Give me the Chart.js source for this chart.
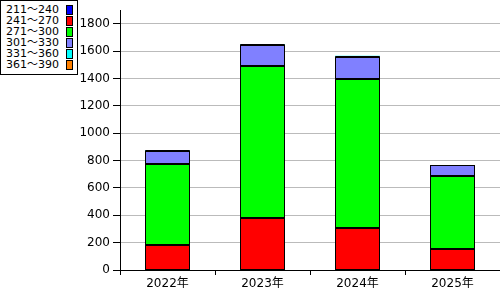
<!DOCTYPE html>
<html><head><meta charset="utf-8">
<script src="https://cdn.jsdelivr.net/npm/chart.js@4"></script>
<style>
html,body{margin:0;padding:0;background:#fff;}
#wrap{position:relative;width:500px;height:300px;}
#legend{position:absolute;left:0;top:0;width:76px;height:73px;border:1px solid #000;background:#fff;font-family:"DejaVu Sans","Noto Sans CJK JP",sans-serif;font-size:11px;color:#000;}
#legend .row{position:absolute;left:5px;height:11px;line-height:11px;white-space:nowrap;}
#legend .sw{position:absolute;left:65px;width:5px;height:8px;border:1px solid #000;}
</style></head>
<body><div id="wrap"><canvas id="c" width="500" height="300"></canvas><div id="legend"></div></div>
<script>
const categories = ["2022年", "2023年", "2024年", "2025年"];
const seriesLabels = ["211～240", "241～270", "271～300", "301～330", "331～360", "361～390"];
const s211_240 = [null, null, null, null];
const s241_270 = [181, 378, 307, 154];
const s271_300 = [592, 1117, 1093, 534];
const s301_330 = [97, 150, 160, 78];
const s331_360 = [6, 6, 6, null];
const s361_390 = [null, null, null, null];
const yTicks = [0, 200, 400, 600, 800, 1000, 1200, 1400, 1600, 1800];

const seriesValues = [s211_240, s241_270, s271_300, s301_330, s331_360, s361_390];
const colors = ["#0000ff", "#ff0000", "#00ff00", "#8080ff", "#00ffff", "#ff8000"];

const lg = document.getElementById('legend');
seriesLabels.forEach((l, i) => {
  const r = document.createElement('div');
  r.className = 'row'; r.style.top = (3 + i * 11) + 'px'; r.textContent = l;
  lg.appendChild(r);
  const s = document.createElement('div');
  s.className = 'sw'; s.style.top = (4 + i * 11) + 'px'; s.style.background = colors[i];
  lg.appendChild(s);
});

const barOutline = {
  id: 'barOutline',
  afterDatasetsDraw(chart) {
    const ctx = chart.ctx;
    ctx.save();
    ctx.strokeStyle = '#000';
    ctx.lineWidth = 1;
    chart.data.datasets.forEach((ds, di) => {
      const meta = chart.getDatasetMeta(di);
      meta.data.forEach((el, i) => {
        if (ds.data[i] == null) return;
        const p = el.getProps(['x', 'y', 'base', 'width'], true);
        const l = Math.round(p.x - p.width / 2) + 0.5;
        const r = Math.round(p.x + p.width / 2) - 0.5;
        const t = Math.round(Math.min(p.y, p.base)) + 0.5;
        const b = Math.round(Math.max(p.y, p.base)) - 0.5;
        ctx.strokeRect(l, t, r - l, Math.max(b - t, 0));
      });
    });
    ctx.restore();
  }
};

const font = {family: '"DejaVu Sans","Noto Sans CJK JP",sans-serif', size: 12};
new Chart(document.getElementById('c'), {
  type: 'bar',
  data: {
    labels: categories,
    datasets: seriesValues.map((v, i) => ({
      label: seriesLabels[i], data: v, backgroundColor: colors[i],
      borderWidth: 0, inflateAmount: 0,
      categoryPercentage: 1, barPercentage: 45 / 95
    }))
  },
  options: {
    responsive: false, animation: false,
    layout: {padding: {top: 10, right: 0, left: 0, bottom: 0}},
    plugins: {legend: {display: false}, tooltip: {enabled: false}},
    scales: {
      x: {
        stacked: true,
        grid: {display: true, drawOnChartArea: false, offset: true, tickLength: 5, tickColor: '#000'},
        border: {color: '#000', width: 1},
        ticks: {color: '#000', font: font, padding: 2, maxRotation: 0},
        afterFit: s => { s.height = 30; }
      },
      y: {
        stacked: true, min: 0, max: 1900,
        afterBuildTicks: s => { s.ticks = yTicks.map(v => ({value: v})); },
        grid: {color: '#bbbbbb', tickColor: '#000', tickLength: 7},
        border: {color: '#000', width: 1},
        ticks: {color: '#000', font: font, padding: 3, callback: v => String(v)},
        afterFit: s => { s.width = 120; }
      }
    }
  },
  plugins: [barOutline]
});
</script></body></html>
